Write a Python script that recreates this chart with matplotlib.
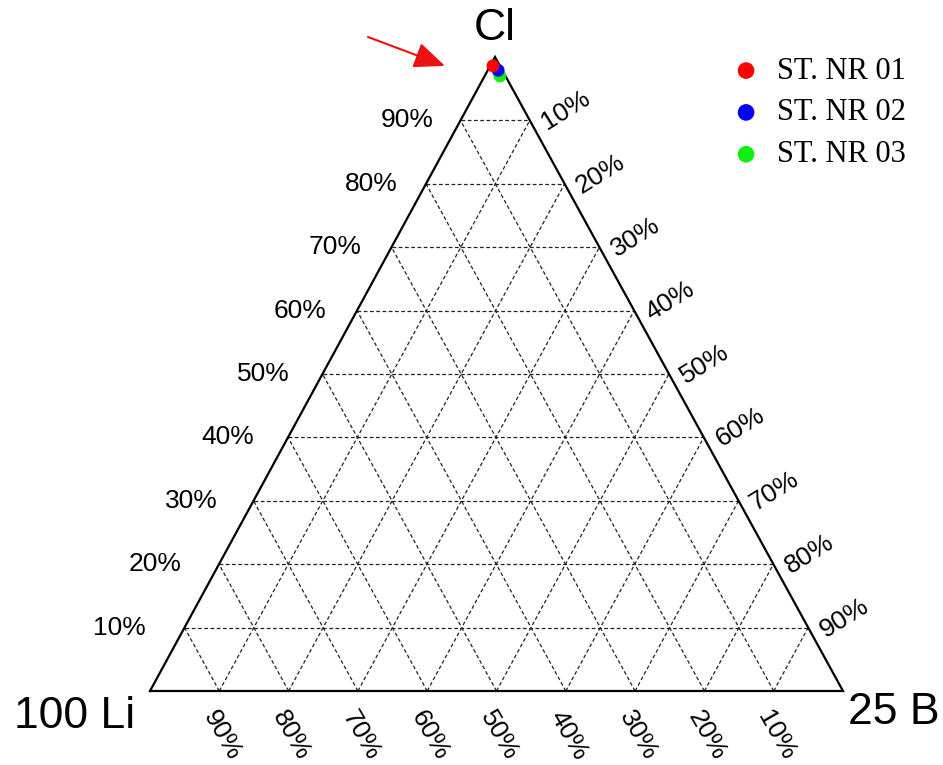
import numpy as np
import matplotlib
matplotlib.use("Agg")
import matplotlib.pyplot as plt

# ternary data (percent): Li, B, Cl
stations = ["ST. NR 01", "ST. NR 02", "ST. NR 03"]
li_pct = [1.0, 0.6, 0.8]
b_pct = [0.4, 1.5, 2.2]
cl_pct = [98.6, 97.9, 97.0]
colors = ["#ff0000", "#0000ff", "#11ee11"]

grid_steps = [10, 20, 30, 40, 50, 60, 70, 80, 90]
tick_labels = ["%d%%" % v for v in grid_steps]

# vertex positions on the canvas (pixel-like coordinates)
P_LI = np.array([150.0, 691.0])
P_B = np.array([843.0, 691.0])
P_CL = np.array([495.0, 57.0])


def tern(li, b, cl):
    li = np.asarray(li, float) / 100
    b = np.asarray(b, float) / 100
    cl = np.asarray(cl, float) / 100
    x = li * P_LI[0] + b * P_B[0] + cl * P_CL[0]
    y = li * P_LI[1] + b * P_B[1] + cl * P_CL[1]
    return x, y


plt.rcParams['font.family'] = ['Liberation Sans', 'DejaVu Sans']
fig = plt.figure(figsize=(9.43, 7.65), dpi=100)
ax = fig.add_axes([0, 0, 1, 1])
ax.set_xlim(0, 943)
ax.set_ylim(765, 0)
ax.axis('off')

grid_kw = dict(color='#222222', lw=0.9, ls=(0, (3, 2)), zorder=1)
for v in grid_steps:
    # constant Cl
    x, y = tern([100 - v, 0], [0, 100 - v], [v, v])
    ax.plot(x, y, **grid_kw)
    # constant Li
    x, y = tern([v, v], [100 - v, 0], [0, 100 - v])
    ax.plot(x, y, **grid_kw)
    # constant B
    x, y = tern([100 - v, 0], [v, v], [0, 100 - v])
    ax.plot(x, y, **grid_kw)

# outer triangle
x, y = tern([100, 0, 0, 100], [0, 100, 0, 0], [0, 0, 100, 0])
ax.plot(x, y, color='black', lw=1.6, zorder=2, solid_joinstyle='miter')

tick_fs = 19
for v, lab in zip(grid_steps, tick_labels):
    # left axis: Cl
    x, y = tern(100 - v, 0, v)
    ax.text(x - 25 - (100 - v) * 0.15, y, lab, ha='right', va='center', fontsize=tick_fs)
    # right axis: B
    x, y = tern(0, v, 100 - v)
    ax.text(x + 36, y - 10, lab, ha='center', va='center', fontsize=tick_fs, rotation=32)
    # bottom axis: Li
    x, y = tern(v, 100 - v, 0)
    ax.text(x + 3, y + 44, lab, ha='center', va='center', fontsize=tick_fs, rotation=-60)

ax.text(P_CL[0], 28, "Cl", ha='center', va='center', fontsize=32)
ax.text(75, 717, "100 Li", ha='center', va='center', fontsize=32)
ax.text(894, 712, "25 B", ha='center', va='center', fontsize=32)

px, py = tern(li_pct, b_pct, cl_pct)
for i in range(len(stations)):
    ax.scatter(px[i], py[i], s=85, color=colors[i], zorder=5 - i, label=stations[i],
               edgecolors='none')

ax.annotate("", xy=(px[0] - 48, py[0]), xytext=(368, 37),
            arrowprops=dict(arrowstyle='-|>,head_length=1.9,head_width=0.8',
                            color='#ee1111', lw=1.5, shrinkA=0, shrinkB=0))

leg = ax.legend(loc='upper left', bbox_to_anchor=(0.762, 0.942), frameon=False,
                prop={'family': 'Liberation Serif', 'size': 22},
                handletextpad=0.5, labelspacing=0.42, markerscale=1.3,
                borderaxespad=0, handlelength=1.0)

fig.savefig("out.png", dpi=100)
